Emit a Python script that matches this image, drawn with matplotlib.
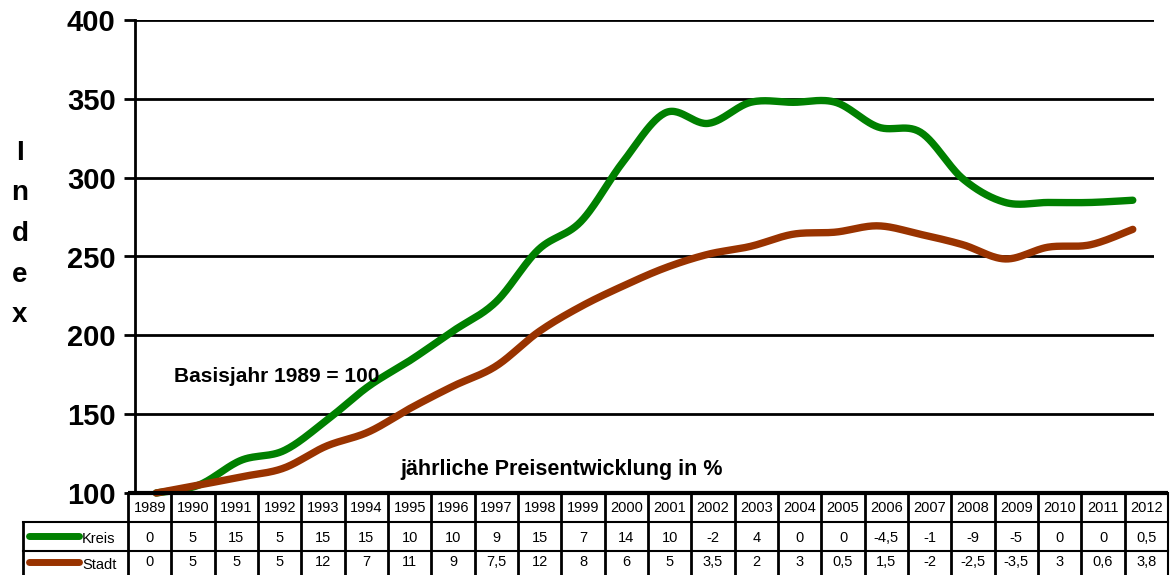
import numpy as np
import matplotlib
matplotlib.use("Agg")
import matplotlib.pyplot as plt

plt.rcParams['font.family'] = ['Liberation Sans', 'DejaVu Sans']

years = list(range(1989, 2013))
# jährliche Preisentwicklung in %
kreis_pct = [0, 5, 15, 5, 15, 15, 10, 10, 9, 15, 7, 14, 10, -2, 4, 0, 0, -4.5, -1, -9, -5, 0, 0, 0.5]
stadt_pct = [0, 5, 5, 5, 12, 7, 11, 9, 7.5, 12, 8, 6, 5, 3.5, 2, 3, 0.5, 1.5, -2, -2.5, -3.5, 3, 0.6, 3.8]
series_names = ["Kreis", "Stadt"]
series_colors = ["#008000", "#993300"]
y_ticks = [100, 150, 200, 250, 300, 350, 400]

# index with base year 1989 = 100
kreis_idx = 100 * np.cumprod(1 + np.array(kreis_pct) / 100)
stadt_idx = 100 * np.cumprod(1 + np.array(stadt_pct) / 100)


def smooth(x, y, n=30):
    # bezier curve through the points, control points like catmull-rom
    x = np.asarray(x, float)
    y = np.asarray(y, float)
    px = np.concatenate([[x[0]], x, [x[-1]]])
    py = np.concatenate([[y[0]], y, [y[-1]]])
    xs, ys = [], []
    t = np.linspace(0, 1, n)
    for i in range(1, len(px) - 2):
        p0 = np.array([px[i], py[i]])
        p3 = np.array([px[i + 1], py[i + 1]])
        p1 = p0 + (p3 - np.array([px[i - 1], py[i - 1]])) / 6
        p2 = p3 - (np.array([px[i + 2], py[i + 2]]) - p0) / 6
        pts = ((1 - t) ** 3)[:, None] * p0 + (3 * (1 - t) ** 2 * t)[:, None] * p1 \
            + (3 * (1 - t) * t ** 2)[:, None] * p2 + (t ** 3)[:, None] * p3
        xs.append(pts[:, 0])
        ys.append(pts[:, 1])
    return np.concatenate(xs), np.concatenate(ys)


W, H = 1172, 575
fig = plt.figure(figsize=(W / 100, H / 100), dpi=100)

# chart area in pixels
left, right, top, bottom = 135, 1154, 20, 493
ax = fig.add_axes([left / W, 1 - bottom / H, (right - left) / W, (bottom - top) / H])
ax.set_xlim(-0.5, len(years) - 0.5)
ax.set_ylim(100, 400)
ax.set_yticks(y_ticks)
ax.set_yticklabels([str(v) for v in y_ticks], fontsize=21, fontweight='bold')
ax.set_xticks([])
ax.tick_params(axis='y', length=8, width=2, pad=6)
for s in ['top', 'right', 'bottom']:
    ax.spines[s].set_visible(False)
ax.spines['left'].set_linewidth(2)
for v in y_ticks[1:]:
    ax.axhline(v, color='black', lw=2, zorder=1)

xi = np.arange(len(years))
for idx, col in zip([kreis_idx, stadt_idx], series_colors):
    sx, sy = smooth(xi, idx)
    ax.plot(sx, sy, color=col, lw=5.3, solid_capstyle='round', zorder=3, clip_on=False)

# overlay in pixel coordinates for texts and the data table
ov = fig.add_axes([0, 0, 1, 1])
ov.set_xlim(0, W)
ov.set_ylim(H, 0)
ov.axis('off')
ov.patch.set_alpha(0)

for i, ch in enumerate("Index"):
    ov.text(20, 153 + i * 40.5, ch, fontsize=20, fontweight='bold', ha='center', va='center')

ov.text(174, 376, "Basisjahr 1989 = 100", fontsize=15, fontweight='bold', va='center')
ov.text(400, 470, "jährliche Preisentwicklung in %", fontsize=15.5, fontweight='bold', va='center')

# data table
t_left, t_right = 128, 1168
cw = (t_right - t_left) / len(years)
rows = [493, 522, 551, 580]
lab_left = 23

ov.plot([t_left, t_right], [rows[0], rows[0]], color='black', lw=3, solid_capstyle='butt')
for r in rows[1:3]:
    ov.plot([lab_left, t_right], [r, r], color='black', lw=1.5)
for i in range(len(years) + 1):
    x = t_left + i * cw
    ov.plot([x, x], [rows[0], H], color='black', lw=2 if i < len(years) else 1.5)
ov.plot([lab_left, lab_left], [rows[1], H], color='black', lw=2)

for i, yr in enumerate(years):
    xc = t_left + (i + 0.5) * cw
    ov.text(xc, (rows[0] + rows[1]) / 2 + 1, str(yr), fontsize=10.5, ha='center', va='center')
    for r, vals in enumerate([kreis_pct, stadt_pct]):
        v = vals[i]
        lab = ('%g' % v).replace('.', ',')
        ov.text(xc, (rows[r + 1] + rows[r + 2]) / 2 + (1 if r == 0 else -3), lab,
                fontsize=10.5, ha='center', va='center')

for r, (name, col) in enumerate(zip(series_names, series_colors)):
    yc = rows[r + 1] + 14 if r == 0 else rows[r + 1] + 11
    ov.plot([29, 79], [yc, yc], color=col, lw=5, solid_capstyle='round')
    ov.text(82, yc + 3, name, fontsize=10.5, va='center')

fig.savefig("out.png", dpi=100)
